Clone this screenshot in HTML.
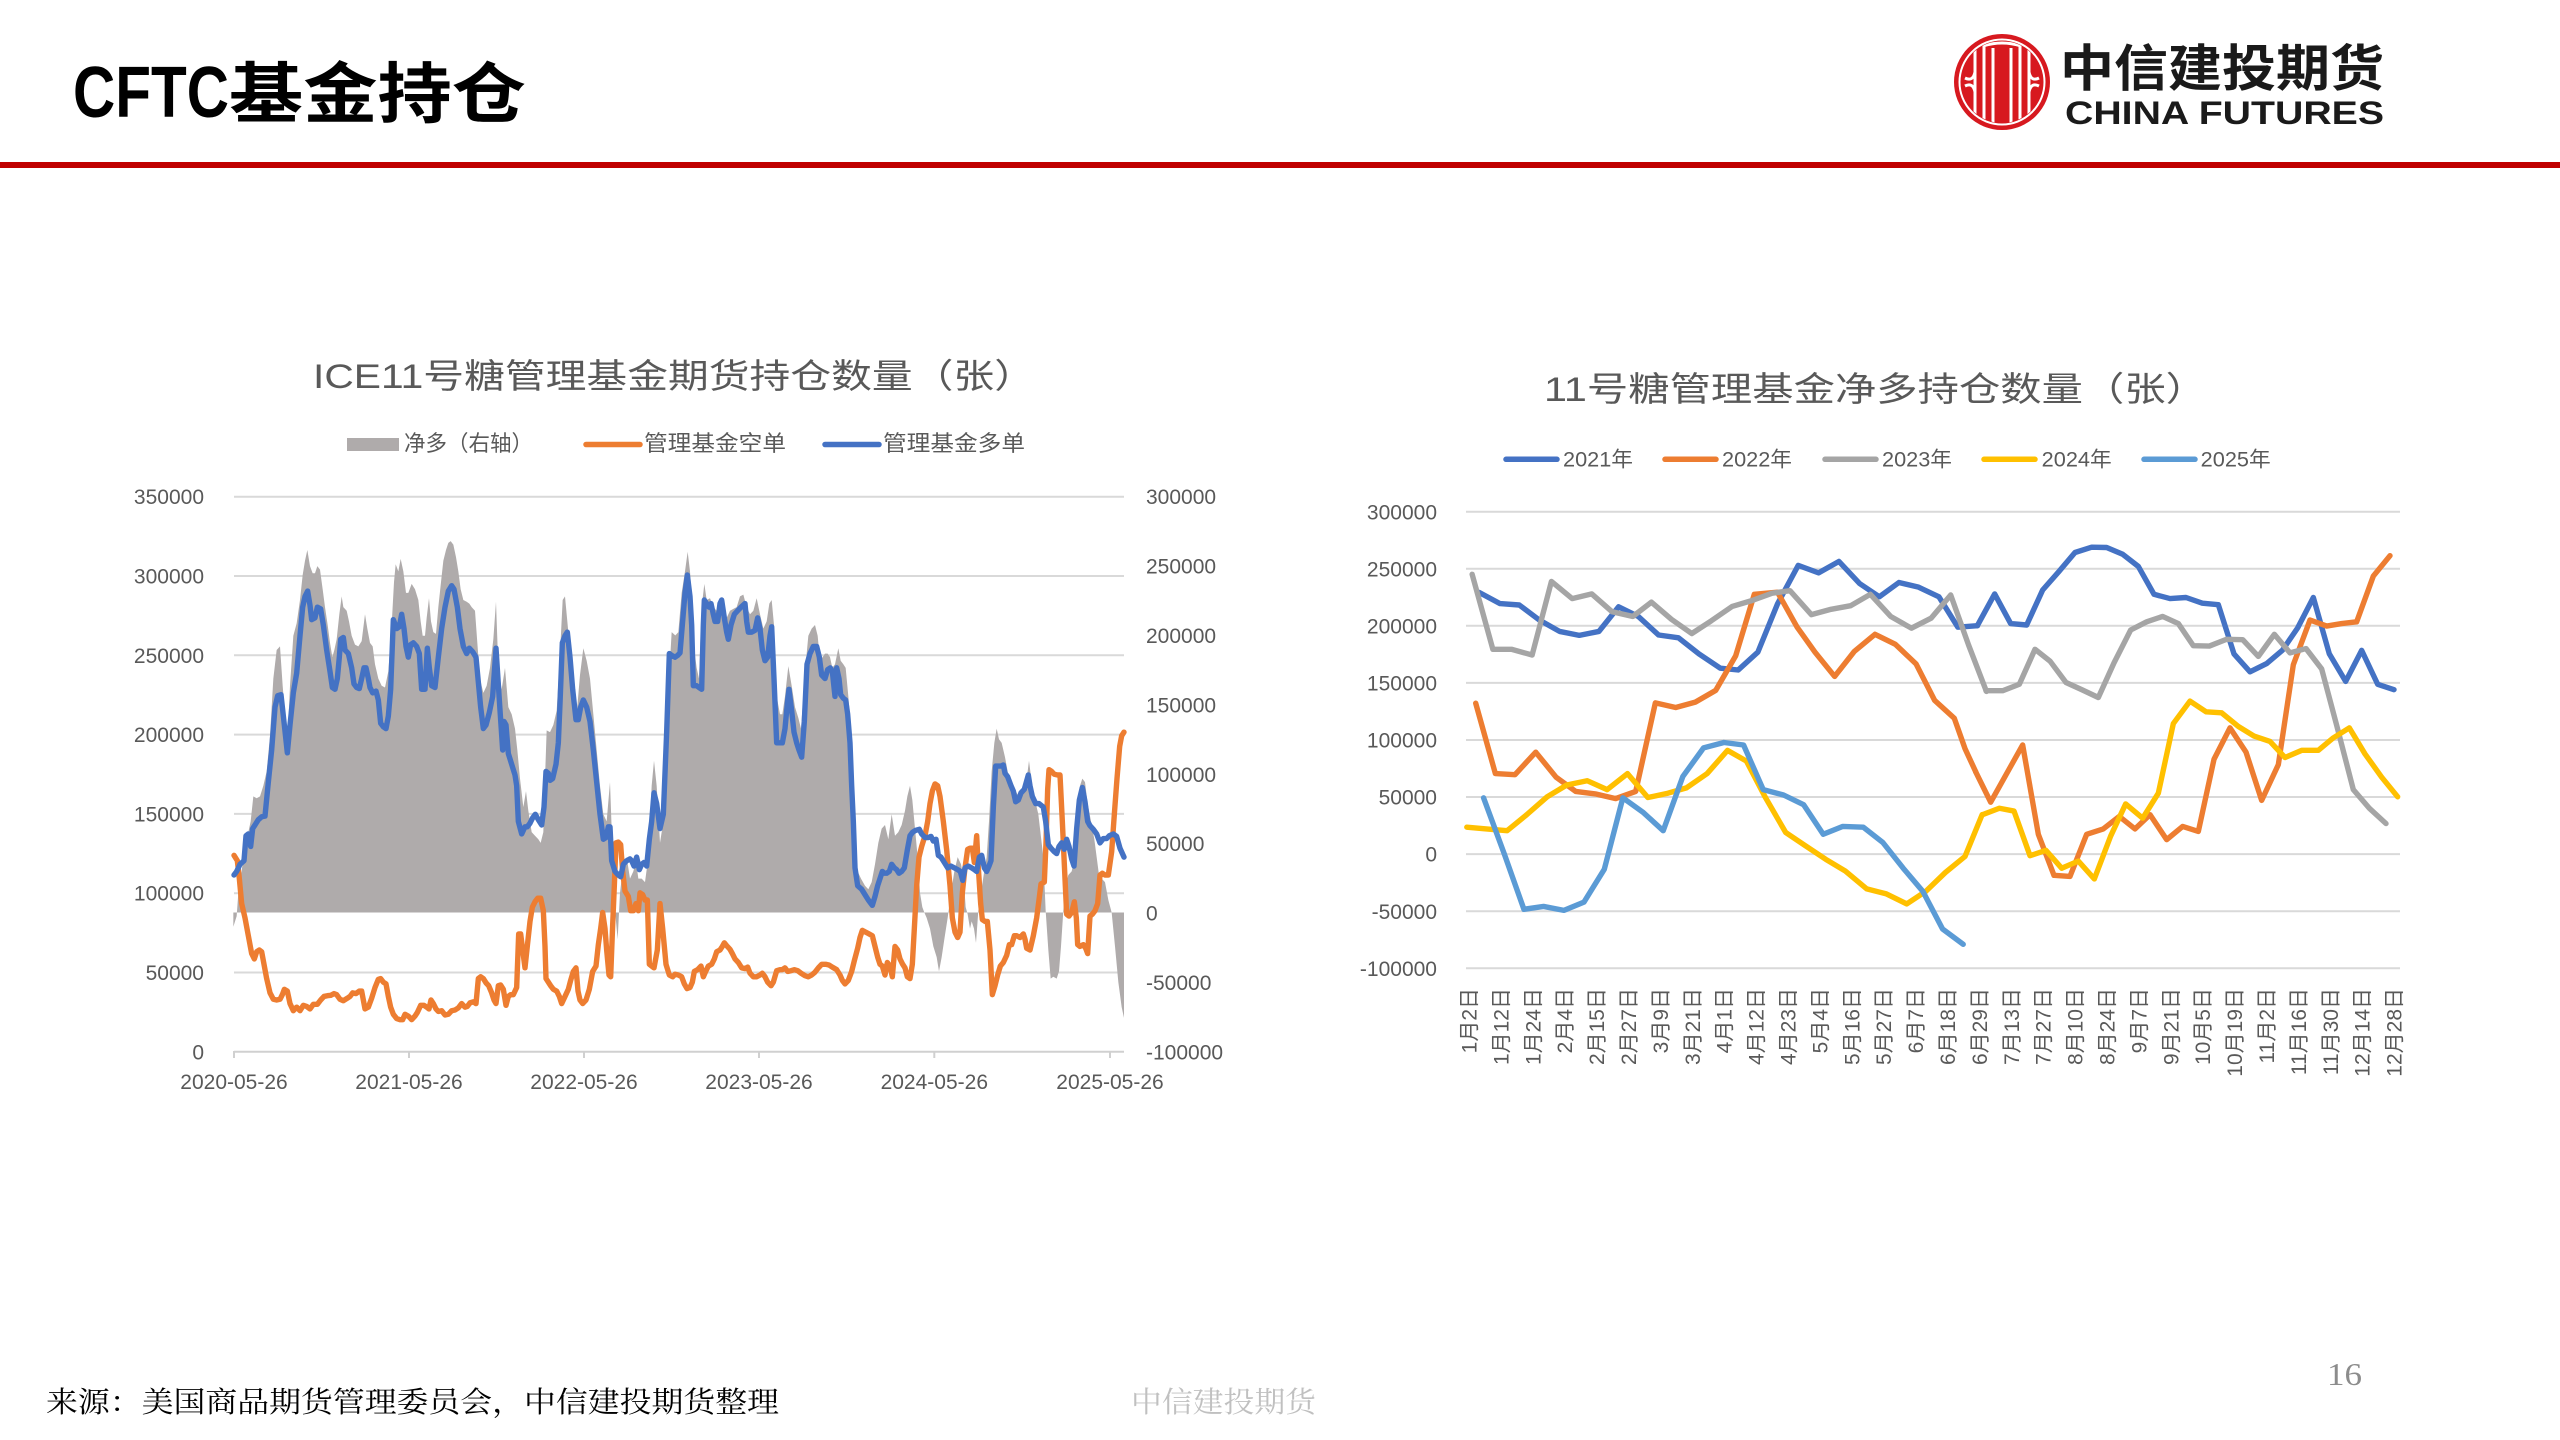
<!DOCTYPE html>
<html><head><meta charset="utf-8"><style>
html,body{margin:0;padding:0;background:#fff;}
svg{display:block;}
text{font-family:"Liberation Sans","Noto Sans CJK SC",sans-serif;}
.ser{font-family:"Liberation Serif","Noto Serif CJK SC",serif;}
.ax{font-size:21px;fill:#595959;}
</style></head><body>
<svg width="2560" height="1440" viewBox="0 0 2560 1440" xmlns="http://www.w3.org/2000/svg">
<rect width="2560" height="1440" fill="#fff"/>
<!-- header -->
<text x="73" y="117" font-size="72" font-weight="bold" fill="#000" textLength="156" lengthAdjust="spacingAndGlyphs">CFTC</text>
<text x="229" y="117" font-size="66" font-weight="bold" fill="#000" textLength="297" lengthAdjust="spacingAndGlyphs" style="font-family:'Noto Sans CJK SC',sans-serif">基金持仓</text>
<rect x="0" y="162" width="2560" height="6" fill="#C00000"/>
<!-- logo -->
<g>
<circle cx="2002" cy="82" r="48" fill="#D7191F"/>
<circle cx="2002" cy="82" r="42.5" fill="none" stroke="#fff" stroke-width="2"/>
<clipPath id="lc"><circle cx="2002" cy="82" r="41"/></clipPath>
<g clip-path="url(#lc)" stroke="#fff" stroke-width="3" fill="none">
<path d="M1975 40 V124 M1984 44 V120"/>
<path d="M2020 44 V120 M2029 40 V124"/>
<path d="M1993 48 V124 M2011 48 V124"/>
<path d="M1983 46 Q2002 40 2021 46"/>
<path d="M1965 78 q8 4 10 -6 M1965 86 q8 -4 10 6"/>
<path d="M2039 78 q-8 4 -10 -6 M2039 86 q-8 -4 -10 6"/>
</g>
</g>
<text x="2060" y="86" font-size="50" font-weight="bold" fill="#1a1a1a" textLength="324" lengthAdjust="spacingAndGlyphs" style="font-family:'Noto Sans CJK SC',sans-serif">中信建投期货</text>
<text x="2065" y="124" font-size="32" font-weight="bold" fill="#1a1a1a" textLength="319" lengthAdjust="spacingAndGlyphs">CHINA FUTURES</text>

<!-- ================= LEFT CHART ================= -->
<text x="313" y="388" font-size="34" fill="#595959" textLength="722" lengthAdjust="spacingAndGlyphs">ICE11号糖管理基金期货持仓数量（张）</text>
<rect x="347" y="438" width="52" height="13" fill="#AFABAB"/>
<text x="404" y="451" font-size="22" fill="#595959" textLength="129" lengthAdjust="spacingAndGlyphs">净多（右轴）</text>
<line x1="586" y1="444.5" x2="640" y2="444.5" stroke="#ED7D31" stroke-width="5.5" stroke-linecap="round"/>
<text x="644" y="451" font-size="22" fill="#595959" textLength="142" lengthAdjust="spacingAndGlyphs">管理基金空单</text>
<line x1="825" y1="444.5" x2="879" y2="444.5" stroke="#4472C4" stroke-width="5.5" stroke-linecap="round"/>
<text x="883" y="451" font-size="22" fill="#595959" textLength="142" lengthAdjust="spacingAndGlyphs">管理基金多单</text>

<g stroke="#D9D9D9" stroke-width="2">
<line x1="234" y1="496.7" x2="1124" y2="496.7"/>
<line x1="234" y1="576" x2="1124" y2="576"/>
<line x1="234" y1="655.3" x2="1124" y2="655.3"/>
<line x1="234" y1="734.6" x2="1124" y2="734.6"/>
<line x1="234" y1="813.9" x2="1124" y2="813.9"/>
<line x1="234" y1="893.2" x2="1124" y2="893.2"/>
<line x1="234" y1="972.5" x2="1124" y2="972.5"/>
</g>
<g class="ax" text-anchor="end">
<text x="204" y="504.2">350000</text>
<text x="204" y="583.5">300000</text>
<text x="204" y="662.8">250000</text>
<text x="204" y="742.1">200000</text>
<text x="204" y="821.4">150000</text>
<text x="204" y="900.7">100000</text>
<text x="204" y="980">50000</text>
<text x="204" y="1059.3">0</text>
</g>
<g class="ax">
<text x="1146" y="504.2">300000</text>
<text x="1146" y="573.6">250000</text>
<text x="1146" y="643">200000</text>
<text x="1146" y="712.4">150000</text>
<text x="1146" y="781.8">100000</text>
<text x="1146" y="851.2">50000</text>
<text x="1146" y="920.6">0</text>
<text x="1146" y="990">-50000</text>
<text x="1146" y="1059.3">-100000</text>
</g>
<g class="ax" text-anchor="middle">
<text x="234" y="1089">2020-05-26</text>
<text x="409" y="1089">2021-05-26</text>
<text x="584" y="1089">2022-05-26</text>
<text x="759" y="1089">2023-05-26</text>
<text x="934.3" y="1089">2024-05-26</text>
<text x="1110" y="1089">2025-05-26</text>
</g>

<g transform="translate(230,500) scale(0.333333,0.357143)">
<polygon fill="#AFABAB" points="10,1155 10,1195 20,1165 25,1100 35,1040 45,960 55,930 62,900 70,830 80,835 90,830 100,800 110,760 120,660 130,500 140,420 150,410 158,520 165,600 172,680 180,520 190,380 200,345 210,280 218,210 225,170 232,140 240,185 248,205 255,205 262,185 270,195 278,250 285,300 293,350 300,400 307,440 313,420 320,390 328,320 335,270 340,300 350,310 357,340 365,380 375,405 385,410 395,395 405,320 412,360 420,400 428,410 435,460 445,500 455,520 465,525 475,480 485,350 492,230 497,180 505,200 512,165 520,200 528,260 535,260 545,235 555,250 565,280 572,340 578,380 585,380 590,330 597,275 603,340 610,370 618,375 625,300 633,230 640,170 648,140 655,120 662,115 670,125 678,160 685,200 692,250 700,280 710,285 718,290 725,300 735,310 742,400 750,500 760,540 770,520 780,470 790,390 798,285 805,470 815,530 825,470 835,580 845,600 855,640 862,700 870,780 880,860 888,815 895,870 905,930 915,940 925,950 932,960 940,930 945,780 950,645 960,650 970,630 980,590 990,430 998,280 1005,270 1012,340 1020,420 1030,540 1040,600 1050,490 1060,415 1070,450 1080,500 1090,600 1100,700 1110,800 1120,880 1130,900 1140,790 1148,1000 1155,1150 1163,1230 1170,1100 1180,1020 1190,1000 1200,1060 1210,1040 1218,1010 1225,1060 1235,1060 1245,1070 1255,1000 1265,800 1272,730 1280,800 1290,960 1300,900 1310,700 1320,450 1325,370 1337,380 1337,1155"/>
<g transform="translate(1335,0)">
<polygon fill="#AFABAB" points="0,1155 0,380 10,370 20,260 30,200 38,145 45,200 52,300 58,420 65,470 72,500 80,300 88,235 95,280 105,275 115,300 125,310 135,280 145,295 155,330 165,310 175,305 185,300 195,270 205,265 215,300 225,320 235,310 245,275 255,320 265,360 275,340 283,290 290,280 297,350 305,550 315,600 322,600 330,550 340,465 350,520 360,580 370,610 378,640 385,550 393,450 400,380 410,360 420,350 428,380 435,450 443,440 450,430 458,430 465,440 472,470 480,460 490,415 497,450 505,460 512,470 520,550 528,640 535,850 540,1000 548,1040 558,1060 570,1080 580,1090 590,1070 600,1020 610,960 620,920 630,910 640,950 650,880 660,940 670,930 680,910 690,870 697,830 705,800 712,840 720,920 728,1000 735,1100 742,1140 748,1155 755,1170 765,1200 775,1250 785,1280 792,1320 800,1280 808,1230 818,1170 828,1100 838,1040 848,1000 858,1020 866,1060 872,1140 878,1160 885,1200 890,1180 897,1200 903,1240 910,1150 918,1100 926,1050 935,1000 942,900 950,760 958,680 965,640 972,670 980,680 990,720 1000,770 1010,790 1020,810 1030,830 1040,820 1050,790 1058,760 1062,730 1070,790 1080,840 1090,880 1100,960 1105,1000 1112,1150 1120,1260 1127,1340 1135,1335 1145,1340 1152,1320 1158,1250 1165,1150 1172,1080 1180,1050 1190,1040 1200,1000 1208,900 1215,800 1222,780 1230,790 1238,850 1248,900 1258,950 1265,1000 1272,1050 1280,1060 1290,1070 1300,1120 1310,1155 1320,1250 1330,1350 1340,1420 1347,1450 1347,1155"/>
</g>
<g fill="none" stroke-width="5.4" stroke-linejoin="round" stroke-linecap="round">
<polyline vector-effect="non-scaling-stroke" stroke="#ED7D31" points="12,995 22,1010 28,1060 35,1130 45,1170 55,1220 65,1270 73,1285 80,1265 88,1260 95,1265 102,1300 110,1340 120,1380 130,1398 140,1400 150,1398 157,1385 163,1370 172,1375 180,1410 190,1430 200,1420 210,1430 220,1415 230,1418 240,1425 250,1412 262,1412 272,1400 282,1390 292,1388 302,1387 312,1382 320,1385 330,1398 340,1402 352,1395 360,1390 368,1380 378,1382 388,1375 395,1375 405,1425 415,1420 425,1395 435,1365 445,1342 452,1340 460,1350 468,1355 475,1390 482,1420 490,1440 500,1452 510,1455 518,1455 525,1440 535,1445 545,1455 555,1445 562,1435 572,1415 582,1415 590,1420 597,1425 603,1400 610,1410 618,1425 625,1432 635,1430 645,1442 655,1440 665,1430 675,1428 685,1422 695,1410 705,1420 712,1418 720,1408 730,1405 738,1410 745,1340 752,1335 760,1340 768,1352 776,1360 785,1380 792,1400 798,1410 805,1360 812,1358 820,1370 828,1415 835,1390 842,1385 850,1385 860,1365 866,1215 872,1215 878,1260 885,1310 893,1240 900,1180 907,1140 915,1125 923,1115 932,1115 940,1150 945,1250 948,1340 955,1350 962,1360 970,1370 980,1375 988,1390 995,1410 1005,1390 1015,1370 1022,1345 1030,1320 1038,1310 1044,1375 1050,1400 1058,1410 1068,1400 1078,1370 1088,1320 1098,1305 1105,1245 1112,1200 1118,1155 1125,1200 1130,1260 1137,1330 1142,1335 1148,1190 1153,1080 1158,960 1165,958 1172,965 1178,1040 1185,1095 1195,1110 1202,1150 1210,1150 1218,1130 1225,1150 1230,1100 1238,1105 1245,1120 1252,1120 1258,1300 1265,1305 1272,1310 1282,1260 1290,1130 1298,1200 1308,1300 1318,1330 1328,1335 1335,1328"/>
<polyline vector-effect="non-scaling-stroke" stroke="#ED7D31" transform="translate(1335,0)" points="0,1328 10,1330 20,1335 28,1355 36,1368 45,1365 52,1350 58,1320 68,1315 78,1305 85,1335 92,1320 100,1305 110,1300 118,1285 125,1265 135,1260 142,1250 148,1240 155,1248 165,1258 172,1270 180,1285 190,1295 200,1310 210,1312 218,1308 225,1325 235,1335 245,1335 255,1330 262,1325 270,1335 278,1350 288,1360 295,1350 305,1318 315,1315 322,1315 330,1310 338,1320 348,1318 358,1315 368,1318 378,1325 390,1332 400,1335 410,1330 420,1322 430,1310 440,1300 452,1300 462,1302 472,1308 485,1315 495,1330 502,1345 510,1355 520,1345 530,1320 538,1290 548,1255 555,1225 562,1205 572,1210 582,1215 592,1220 600,1250 608,1280 615,1300 622,1305 630,1330 637,1295 645,1305 652,1335 660,1250 668,1260 675,1285 683,1300 690,1310 697,1335 705,1340 712,1300 718,1200 725,1080 732,1000 740,970 750,940 758,900 765,850 772,815 780,795 788,800 795,830 805,900 815,980 825,1080 832,1170 840,1210 848,1225 855,1210 862,1100 870,1030 878,978 885,975 892,975 898,1015 905,940 910,1030 917,1130 922,1175 930,1180 937,1180 945,1260 952,1385 960,1360 968,1330 976,1305 985,1295 995,1275 1003,1245 1010,1245 1018,1220 1025,1220 1035,1225 1045,1215 1050,1230 1055,1255 1065,1260 1075,1220 1085,1170 1092,1120 1098,1075 1108,1070 1113,960 1118,810 1122,755 1130,760 1138,768 1148,770 1155,770 1162,900 1170,1060 1175,1160 1182,1165 1190,1155 1198,1125 1204,1170 1208,1245 1215,1250 1225,1245 1232,1255 1238,1270 1245,1165 1252,1160 1260,1150 1268,1130 1275,1050 1282,1045 1290,1050 1300,1050 1310,985 1318,880 1326,780 1334,690 1340,660 1347,650"/>
<polyline vector-effect="non-scaling-stroke" stroke="#4472C4" points="12,1050 20,1040 30,1020 42,1010 48,940 55,935 62,970 68,920 75,910 85,895 95,887 105,885 115,790 125,700 135,580 143,548 153,545 163,630 172,708 180,630 190,540 200,485 210,380 218,300 225,270 233,255 240,295 245,335 255,330 262,300 272,305 280,350 290,420 300,480 307,525 315,530 322,500 328,440 332,390 340,385 345,420 355,430 365,470 372,515 380,525 388,528 395,500 402,470 408,470 415,500 420,525 428,540 438,535 445,560 452,625 460,635 468,640 475,605 482,530 490,335 500,360 508,355 515,320 522,360 528,410 535,440 542,405 550,400 560,410 568,430 575,530 585,530 592,415 598,470 605,520 615,525 625,440 635,360 645,300 655,255 665,240 672,250 682,300 690,360 700,410 710,430 718,415 728,425 738,440 745,510 752,580 760,640 768,630 778,595 788,550 798,415 808,560 818,700 822,620 828,630 835,710 845,740 855,770 860,800 865,900 875,935 885,915 892,915 900,905 908,890 916,880 925,895 935,910 942,860 948,760 955,765 960,785 968,780 978,740 985,680 990,570 997,400 1005,380 1012,370 1020,440 1028,530 1038,615 1045,615 1052,580 1060,560 1070,580 1080,620 1090,700 1100,790 1110,880 1120,950 1128,945 1135,915 1140,915 1145,1010 1155,1040 1165,1050 1172,1055 1180,1020 1190,1010 1200,1005 1205,1010 1212,1025 1220,1000 1228,1035 1235,1020 1242,1015 1250,1025 1258,950 1265,900 1272,820 1280,850 1290,920 1300,880 1310,650 1318,430 1325,435 1335,440"/>
<polyline vector-effect="non-scaling-stroke" stroke="#4472C4" transform="translate(1335,0)" points="0,440 8,435 15,428 22,350 30,260 37,210 45,270 50,350 55,520 65,520 72,525 80,530 85,350 88,280 95,290 102,300 108,290 115,320 120,340 128,340 135,290 140,280 148,330 155,370 160,390 168,350 178,320 188,310 198,300 210,290 215,340 220,370 230,370 240,365 248,330 255,360 262,420 270,450 278,440 285,380 290,355 297,500 305,680 315,680 322,680 330,640 338,560 342,530 350,590 357,650 365,680 372,700 380,720 388,620 396,460 405,430 415,410 425,410 433,440 440,490 450,500 458,475 466,470 472,480 480,550 485,470 492,500 497,545 505,555 512,560 518,600 525,680 530,800 535,900 540,1030 548,1080 560,1090 570,1105 580,1120 592,1135 600,1110 608,1080 615,1060 622,1040 628,1045 635,1045 643,1040 650,1020 658,1030 665,1035 672,1045 680,1040 688,1030 697,980 705,940 713,930 722,925 733,922 740,935 750,945 760,945 768,942 775,955 783,950 790,995 798,1000 808,1015 818,1030 828,1025 838,1030 848,1035 856,1040 863,1065 870,1030 880,1025 890,1030 898,1035 905,1040 913,1000 920,995 928,1030 935,1040 942,1025 948,1010 955,860 962,745 970,745 978,745 985,742 990,765 998,775 1008,800 1015,815 1022,845 1030,840 1038,820 1048,810 1060,770 1065,800 1072,830 1082,850 1092,850 1105,860 1112,900 1120,965 1128,975 1138,985 1145,990 1152,970 1160,960 1168,978 1175,950 1182,970 1190,1005 1197,1025 1205,920 1213,840 1222,805 1230,845 1238,900 1245,912 1255,922 1265,935 1275,960 1285,948 1295,948 1303,940 1315,935 1325,942 1335,975 1347,1000"/>
</g>
</g>
<!-- x axis -->
<g stroke="#D0D0D0" stroke-width="2">
<line x1="234" y1="1051.8" x2="1124" y2="1051.8"/>
<line x1="234" y1="1051" x2="234" y2="1058"/>
<line x1="409" y1="1051" x2="409" y2="1058"/>
<line x1="584" y1="1051" x2="584" y2="1058"/>
<line x1="759" y1="1051" x2="759" y2="1058"/>
<line x1="934.3" y1="1051" x2="934.3" y2="1058"/>
<line x1="1110" y1="1051" x2="1110" y2="1058"/>
</g>

<!-- ================= RIGHT CHART ================= -->
<text x="1544" y="401" font-size="34" fill="#595959" textLength="663" lengthAdjust="spacingAndGlyphs">11号糖管理基金净多持仓数量（张）</text>
<g stroke-width="5.5" stroke-linecap="round">
<line x1="1506" y1="459.3" x2="1557" y2="459.3" stroke="#4472C4"/>
<line x1="1665" y1="459.3" x2="1716" y2="459.3" stroke="#ED7D31"/>
<line x1="1825" y1="459.3" x2="1876" y2="459.3" stroke="#A5A5A5"/>
<line x1="1984" y1="459.3" x2="2035" y2="459.3" stroke="#FFC000"/>
<line x1="2144" y1="459.3" x2="2195" y2="459.3" stroke="#5B9BD5"/>
</g>
<g font-size="21" fill="#595959">
<text x="1563" y="466.5" textLength="70" lengthAdjust="spacingAndGlyphs">2021年</text>
<text x="1722" y="466.5" textLength="70" lengthAdjust="spacingAndGlyphs">2022年</text>
<text x="1882" y="466.5" textLength="70" lengthAdjust="spacingAndGlyphs">2023年</text>
<text x="2041.7" y="466.5" textLength="70" lengthAdjust="spacingAndGlyphs">2024年</text>
<text x="2200.7" y="466.5" textLength="70" lengthAdjust="spacingAndGlyphs">2025年</text>
</g>
<g stroke="#D9D9D9" stroke-width="2">
<line x1="1466" y1="511.7" x2="2400" y2="511.7"/>
<line x1="1466" y1="568.8" x2="2400" y2="568.8"/>
<line x1="1466" y1="625.8" x2="2400" y2="625.8"/>
<line x1="1466" y1="682.9" x2="2400" y2="682.9"/>
<line x1="1466" y1="740" x2="2400" y2="740"/>
<line x1="1466" y1="797" x2="2400" y2="797"/>
<line x1="1466" y1="854.1" x2="2400" y2="854.1"/>
<line x1="1466" y1="911.2" x2="2400" y2="911.2"/>
<line x1="1466" y1="968.3" x2="2400" y2="968.3"/>
</g>
<g class="ax" text-anchor="end">
<text x="1437" y="519.3">300000</text>
<text x="1437" y="576.4">250000</text>
<text x="1437" y="633.4">200000</text>
<text x="1437" y="690.5">150000</text>
<text x="1437" y="747.6">100000</text>
<text x="1437" y="804.6">50000</text>
<text x="1437" y="861.7">0</text>
<text x="1437" y="918.8">-50000</text>
<text x="1437" y="975.9">-100000</text>
</g>
<g class="ax" text-anchor="end">
<text transform="translate(1476.5,988) rotate(-90)">1月2日</text>
<text transform="translate(1508.4,988) rotate(-90)">1月12日</text>
<text transform="translate(1540.3,988) rotate(-90)">1月24日</text>
<text transform="translate(1572.2,988) rotate(-90)">2月4日</text>
<text transform="translate(1604.1,988) rotate(-90)">2月15日</text>
<text transform="translate(1636,988) rotate(-90)">2月27日</text>
<text transform="translate(1667.9,988) rotate(-90)">3月9日</text>
<text transform="translate(1699.8,988) rotate(-90)">3月21日</text>
<text transform="translate(1731.7,988) rotate(-90)">4月1日</text>
<text transform="translate(1763.6,988) rotate(-90)">4月12日</text>
<text transform="translate(1795.5,988) rotate(-90)">4月23日</text>
<text transform="translate(1827.4,988) rotate(-90)">5月4日</text>
<text transform="translate(1859.3,988) rotate(-90)">5月16日</text>
<text transform="translate(1891.2,988) rotate(-90)">5月27日</text>
<text transform="translate(1923.1,988) rotate(-90)">6月7日</text>
<text transform="translate(1955,988) rotate(-90)">6月18日</text>
<text transform="translate(1986.9,988) rotate(-90)">6月29日</text>
<text transform="translate(2018.8,988) rotate(-90)">7月13日</text>
<text transform="translate(2050.7,988) rotate(-90)">7月27日</text>
<text transform="translate(2082.6,988) rotate(-90)">8月10日</text>
<text transform="translate(2114.5,988) rotate(-90)">8月24日</text>
<text transform="translate(2146.4,988) rotate(-90)">9月7日</text>
<text transform="translate(2178.3,988) rotate(-90)">9月21日</text>
<text transform="translate(2210.2,988) rotate(-90)">10月5日</text>
<text transform="translate(2242.1,988) rotate(-90)">10月19日</text>
<text transform="translate(2274,988) rotate(-90)">11月2日</text>
<text transform="translate(2305.9,988) rotate(-90)">11月16日</text>
<text transform="translate(2337.8,988) rotate(-90)">11月30日</text>
<text transform="translate(2369.7,988) rotate(-90)">12月14日</text>
<text transform="translate(2401.6,988) rotate(-90)">12月28日</text>
</g>

<g fill="none" stroke-width="5.4" stroke-linejoin="round" stroke-linecap="round">
<g transform="translate(1440,420) scale(0.357143)">
<polyline vector-effect="non-scaling-stroke" stroke="#4472C4" points="110,483 168,514 222,518 278,560 335,592 390,603 445,592 500,523 555,550 612,602 668,610 725,655 785,695 835,700 890,650 945,515 1003,407 1060,428 1117,396 1175,458 1230,495 1285,455 1340,468 1397,495 1450,580 1505,576"/>
<polyline vector-effect="non-scaling-stroke" stroke="#ED7D31" points="100,793 155,990 210,993 268,930 325,1000 380,1040 435,1047 492,1060 548,1040 603,792 660,805 715,790 772,757 828,660 880,488 945,482 1000,580 1050,650 1105,718 1160,648 1218,600 1275,628 1333,683 1385,785 1440,835 1470,920 1500,985"/>
<polyline vector-effect="non-scaling-stroke" stroke="#A5A5A5" points="90,432 148,642 200,642 258,658 312,452 370,500 425,487 482,537 540,550 592,510 648,558 705,598 760,562 818,522 875,505 930,485 980,478 1040,545 1095,530 1150,520 1205,488 1262,550 1320,583 1375,555 1430,490 1480,630 1530,760"/>
<polyline vector-effect="non-scaling-stroke" stroke="#FFC000" points="75,1140 130,1145 188,1150 243,1105 300,1055 355,1022 412,1010 468,1035 525,990 582,1057 638,1045 690,1030 748,990 805,925 858,955 910,1055 968,1155 1020,1190 1080,1230 1135,1263 1195,1313 1250,1327 1307,1355 1360,1320 1415,1267 1470,1222 1518,1105"/>
<polyline vector-effect="non-scaling-stroke" stroke="#5B9BD5" points="122,1058 180,1215 235,1370 290,1362 347,1373 403,1350 460,1258 512,1058 568,1098 625,1150 680,998 738,918 795,903 850,910 905,1035 962,1050 1018,1077 1073,1160 1128,1138 1185,1140 1240,1183 1297,1255 1352,1320 1407,1425 1465,1468"/>
</g>
<g transform="translate(1960,420) scale(0.333333,0.357143)">
<polyline vector-effect="non-scaling-stroke" stroke="#4472C4" points="52,576 104,487 152,570 200,574 248,476 296,425 345,371 395,356 440,357 488,376 535,410 582,488 630,500 678,497 727,513 775,517 822,655 870,705 920,682 967,645 1013,582 1060,497 1108,655 1157,732 1205,645 1253,740 1302,755"/>
<polyline vector-effect="non-scaling-stroke" stroke="#ED7D31" points="47,985 92,1070 140,990 188,910 235,1160 282,1275 330,1278 380,1160 430,1145 478,1110 525,1145 570,1105 620,1175 668,1138 715,1152 762,950 810,862 858,930 905,1065 955,965 1000,685 1050,560 1100,577 1145,570 1190,565 1240,437 1290,380"/>
<polyline vector-effect="non-scaling-stroke" stroke="#A5A5A5" points="78,758 128,758 178,740 225,642 270,675 318,735 365,755 415,777 462,680 512,588 560,565 608,550 655,570 700,632 748,633 800,614 848,615 895,662 943,600 990,652 1038,640 1085,697 1130,855 1180,1035 1228,1087 1278,1130"/>
<polyline vector-effect="non-scaling-stroke" stroke="#FFC000" points="68,1105 118,1087 162,1095 210,1220 258,1205 305,1255 355,1235 403,1285 452,1165 497,1075 548,1115 595,1045 640,850 690,787 738,817 785,820 835,858 882,885 930,900 975,945 1025,925 1075,925 1120,890 1168,862 1215,935 1265,1000 1313,1055"/>
</g>
</g>

<!-- footer -->
<text class="ser" x="46" y="1412" font-size="29" fill="#000" textLength="733" lengthAdjust="spacingAndGlyphs">来源：美国商品期货管理委员会，中信建投期货整理</text>
<text class="ser" x="1131" y="1412" font-size="29" fill="#C0C0C0" textLength="185" lengthAdjust="spacingAndGlyphs">中信建投期货</text>
<text class="ser" x="2327" y="1385" font-size="32" fill="#8C8C8C" textLength="35" lengthAdjust="spacingAndGlyphs">16</text>
</svg>
</body></html>
